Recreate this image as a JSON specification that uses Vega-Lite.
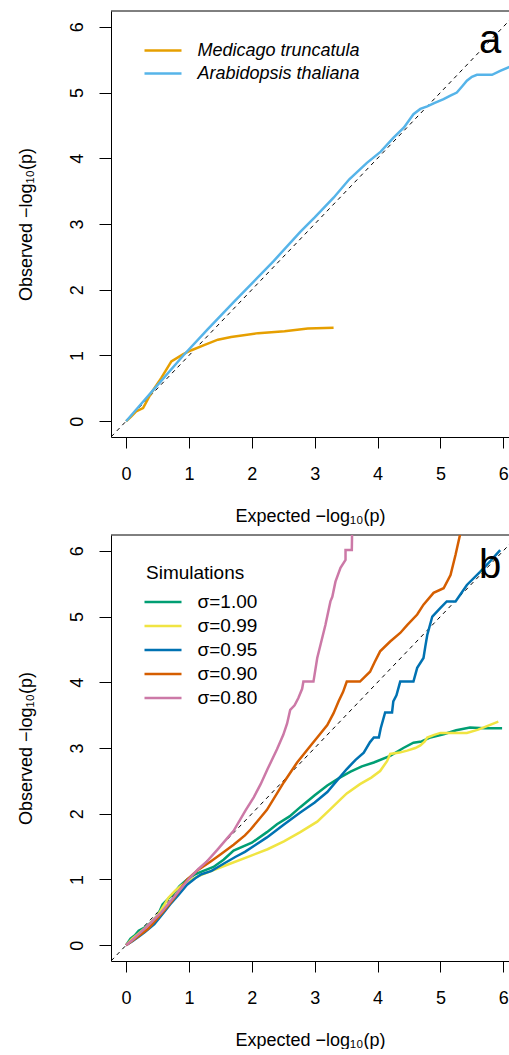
{
  "$schema": "https://vega.github.io/schema/vega-lite/v6.json",
  "background": "white",
  "padding": {"left": 17, "top": 10, "right": 0, "bottom": 0},
  "spacing": 9,
  "config": {
    "font": "Liberation Sans",
    "view": {"stroke": null},
    "axis": {
      "grid": false,
      "domainColor": "black",
      "tickColor": "black",
      "labelColor": "black",
      "titleColor": "black",
      "labelFontSize": 18,
      "titleFontSize": 18,
      "titleFontWeight": "normal",
      "labelFlush": false,
      "labelOverlap": false,
      "format": "d"
    },
    "axisX": {"tickSize": 11, "labelPadding": 17, "titlePadding": 24},
    "axisY": {"tickSize": 12, "labelPadding": 13, "titlePadding": 33, "labelAngle": 270},
    "legend": {
      "orient": "none",
      "symbolType": "M-1.3,0H2.4",
      "symbolSize": 400,
      "symbolStrokeWidth": 2.5,
      "labelFontSize": 18,
      "labelLimit": 0,
      "labelColor": "black",
      "titleColor": "black",
      "titleFontWeight": "normal",
      "titleFontSize": 19,
      "labelOffset": 28.5,
      "padding": 0,
      "rowPadding": 2
    }
  },
  "datasets": {
    "diag": [{"x": -0.5, "y": -0.5, "x2": 7, "y2": 7}],
    "frame": [{"y": 6.24}],
    "lab": [{"panel": "a", "x": 5.79, "y": 5.6, "t": "a"}, {"panel": "b", "x": 5.79, "y": 5.59, "t": "b"}],
    "a": [
      {"s": "Medicago truncatula", "i": 0, "x": 0, "y": 0},
      {"s": "Medicago truncatula", "i": 1, "x": 0.08, "y": 0.07},
      {"s": "Medicago truncatula", "i": 2, "x": 0.16, "y": 0.15},
      {"s": "Medicago truncatula", "i": 3, "x": 0.27, "y": 0.2},
      {"s": "Medicago truncatula", "i": 4, "x": 0.4, "y": 0.43},
      {"s": "Medicago truncatula", "i": 5, "x": 0.56, "y": 0.66},
      {"s": "Medicago truncatula", "i": 6, "x": 0.72, "y": 0.91},
      {"s": "Medicago truncatula", "i": 7, "x": 0.91, "y": 1.02},
      {"s": "Medicago truncatula", "i": 8, "x": 1.04, "y": 1.08},
      {"s": "Medicago truncatula", "i": 9, "x": 1.25, "y": 1.16},
      {"s": "Medicago truncatula", "i": 10, "x": 1.46, "y": 1.24},
      {"s": "Medicago truncatula", "i": 11, "x": 1.67, "y": 1.28},
      {"s": "Medicago truncatula", "i": 12, "x": 2.1, "y": 1.34},
      {"s": "Medicago truncatula", "i": 13, "x": 2.52, "y": 1.37},
      {"s": "Medicago truncatula", "i": 14, "x": 2.89, "y": 1.41},
      {"s": "Medicago truncatula", "i": 15, "x": 3.3, "y": 1.42},
      {"s": "Arabidopsis thaliana", "i": 0, "x": 0, "y": 0},
      {"s": "Arabidopsis thaliana", "i": 1, "x": 0.2, "y": 0.22},
      {"s": "Arabidopsis thaliana", "i": 2, "x": 0.5, "y": 0.55},
      {"s": "Arabidopsis thaliana", "i": 3, "x": 0.91, "y": 1.0},
      {"s": "Arabidopsis thaliana", "i": 4, "x": 1.3, "y": 1.4},
      {"s": "Arabidopsis thaliana", "i": 5, "x": 1.73, "y": 1.83},
      {"s": "Arabidopsis thaliana", "i": 6, "x": 2.35, "y": 2.44},
      {"s": "Arabidopsis thaliana", "i": 7, "x": 2.77, "y": 2.88},
      {"s": "Arabidopsis thaliana", "i": 8, "x": 3.0, "y": 3.1},
      {"s": "Arabidopsis thaliana", "i": 9, "x": 3.3, "y": 3.4},
      {"s": "Arabidopsis thaliana", "i": 10, "x": 3.55, "y": 3.68},
      {"s": "Arabidopsis thaliana", "i": 11, "x": 3.83, "y": 3.93},
      {"s": "Arabidopsis thaliana", "i": 12, "x": 4.05, "y": 4.1},
      {"s": "Arabidopsis thaliana", "i": 13, "x": 4.25, "y": 4.31},
      {"s": "Arabidopsis thaliana", "i": 14, "x": 4.42, "y": 4.47},
      {"s": "Arabidopsis thaliana", "i": 15, "x": 4.57, "y": 4.67},
      {"s": "Arabidopsis thaliana", "i": 16, "x": 4.68, "y": 4.75},
      {"s": "Arabidopsis thaliana", "i": 17, "x": 4.79, "y": 4.79},
      {"s": "Arabidopsis thaliana", "i": 18, "x": 4.9, "y": 4.84},
      {"s": "Arabidopsis thaliana", "i": 19, "x": 5.05, "y": 4.9},
      {"s": "Arabidopsis thaliana", "i": 20, "x": 5.15, "y": 4.95},
      {"s": "Arabidopsis thaliana", "i": 21, "x": 5.26, "y": 5.0},
      {"s": "Arabidopsis thaliana", "i": 22, "x": 5.35, "y": 5.1},
      {"s": "Arabidopsis thaliana", "i": 23, "x": 5.42, "y": 5.18},
      {"s": "Arabidopsis thaliana", "i": 24, "x": 5.5, "y": 5.24},
      {"s": "Arabidopsis thaliana", "i": 25, "x": 5.58, "y": 5.27},
      {"s": "Arabidopsis thaliana", "i": 26, "x": 5.7, "y": 5.27},
      {"s": "Arabidopsis thaliana", "i": 27, "x": 5.82, "y": 5.27},
      {"s": "Arabidopsis thaliana", "i": 28, "x": 5.95, "y": 5.33},
      {"s": "Arabidopsis thaliana", "i": 29, "x": 6.12, "y": 5.4}
    ],
    "b": [
      {"s": "σ=1.00", "i": 0, "x": 0, "y": 0},
      {"s": "σ=1.00", "i": 1, "x": 0.07, "y": 0.1},
      {"s": "σ=1.00", "i": 2, "x": 0.14, "y": 0.15},
      {"s": "σ=1.00", "i": 3, "x": 0.2, "y": 0.22},
      {"s": "σ=1.00", "i": 4, "x": 0.3, "y": 0.27},
      {"s": "σ=1.00", "i": 5, "x": 0.4, "y": 0.35},
      {"s": "σ=1.00", "i": 6, "x": 0.5, "y": 0.45},
      {"s": "σ=1.00", "i": 7, "x": 0.58, "y": 0.62},
      {"s": "σ=1.00", "i": 8, "x": 0.64, "y": 0.68},
      {"s": "σ=1.00", "i": 9, "x": 0.75, "y": 0.78},
      {"s": "σ=1.00", "i": 10, "x": 0.85, "y": 0.9},
      {"s": "σ=1.00", "i": 11, "x": 0.97, "y": 1.0},
      {"s": "σ=1.00", "i": 12, "x": 1.1, "y": 1.08},
      {"s": "σ=1.00", "i": 13, "x": 1.2, "y": 1.12},
      {"s": "σ=1.00", "i": 14, "x": 1.39, "y": 1.19},
      {"s": "σ=1.00", "i": 15, "x": 1.55, "y": 1.3},
      {"s": "σ=1.00", "i": 16, "x": 1.71, "y": 1.44},
      {"s": "σ=1.00", "i": 17, "x": 2.0, "y": 1.56},
      {"s": "σ=1.00", "i": 18, "x": 2.24, "y": 1.72},
      {"s": "σ=1.00", "i": 19, "x": 2.4, "y": 1.84},
      {"s": "σ=1.00", "i": 20, "x": 2.6, "y": 1.96},
      {"s": "σ=1.00", "i": 21, "x": 2.77, "y": 2.1},
      {"s": "σ=1.00", "i": 22, "x": 3.0, "y": 2.28},
      {"s": "σ=1.00", "i": 23, "x": 3.2, "y": 2.43},
      {"s": "σ=1.00", "i": 24, "x": 3.4, "y": 2.55},
      {"s": "σ=1.00", "i": 25, "x": 3.57, "y": 2.64},
      {"s": "σ=1.00", "i": 26, "x": 3.75, "y": 2.72},
      {"s": "σ=1.00", "i": 27, "x": 3.94, "y": 2.78},
      {"s": "σ=1.00", "i": 28, "x": 4.2, "y": 2.88},
      {"s": "σ=1.00", "i": 29, "x": 4.41, "y": 3.0},
      {"s": "σ=1.00", "i": 30, "x": 4.57, "y": 3.08},
      {"s": "σ=1.00", "i": 31, "x": 4.7, "y": 3.1},
      {"s": "σ=1.00", "i": 32, "x": 4.84, "y": 3.16},
      {"s": "σ=1.00", "i": 33, "x": 5.05, "y": 3.21},
      {"s": "σ=1.00", "i": 34, "x": 5.25, "y": 3.27},
      {"s": "σ=1.00", "i": 35, "x": 5.47, "y": 3.31},
      {"s": "σ=1.00", "i": 36, "x": 5.7, "y": 3.3},
      {"s": "σ=1.00", "i": 37, "x": 5.98, "y": 3.3},
      {"s": "σ=0.99", "i": 0, "x": 0, "y": 0},
      {"s": "σ=0.99", "i": 1, "x": 0.1, "y": 0.1},
      {"s": "σ=0.99", "i": 2, "x": 0.2, "y": 0.18},
      {"s": "σ=0.99", "i": 3, "x": 0.35, "y": 0.3},
      {"s": "σ=0.99", "i": 4, "x": 0.5, "y": 0.45},
      {"s": "σ=0.99", "i": 5, "x": 0.6, "y": 0.6},
      {"s": "σ=0.99", "i": 6, "x": 0.67, "y": 0.72},
      {"s": "σ=0.99", "i": 7, "x": 0.78, "y": 0.83},
      {"s": "σ=0.99", "i": 8, "x": 0.88, "y": 0.91},
      {"s": "σ=0.99", "i": 9, "x": 1.0, "y": 0.98},
      {"s": "σ=0.99", "i": 10, "x": 1.15, "y": 1.05},
      {"s": "σ=0.99", "i": 11, "x": 1.36, "y": 1.13},
      {"s": "σ=0.99", "i": 12, "x": 1.6, "y": 1.22},
      {"s": "σ=0.99", "i": 13, "x": 1.98, "y": 1.36},
      {"s": "σ=0.99", "i": 14, "x": 2.25, "y": 1.46},
      {"s": "σ=0.99", "i": 15, "x": 2.51, "y": 1.58},
      {"s": "σ=0.99", "i": 16, "x": 2.77, "y": 1.72},
      {"s": "σ=0.99", "i": 17, "x": 3.04, "y": 1.88},
      {"s": "σ=0.99", "i": 18, "x": 3.25, "y": 2.07},
      {"s": "σ=0.99", "i": 19, "x": 3.41, "y": 2.22},
      {"s": "σ=0.99", "i": 20, "x": 3.51, "y": 2.31},
      {"s": "σ=0.99", "i": 21, "x": 3.72, "y": 2.45},
      {"s": "σ=0.99", "i": 22, "x": 3.9, "y": 2.55},
      {"s": "σ=0.99", "i": 23, "x": 4.04, "y": 2.65},
      {"s": "σ=0.99", "i": 24, "x": 4.15, "y": 2.8},
      {"s": "σ=0.99", "i": 25, "x": 4.2, "y": 2.91},
      {"s": "σ=0.99", "i": 26, "x": 4.35, "y": 2.93},
      {"s": "σ=0.99", "i": 27, "x": 4.47, "y": 2.96},
      {"s": "σ=0.99", "i": 28, "x": 4.6, "y": 3.0},
      {"s": "σ=0.99", "i": 29, "x": 4.68, "y": 3.04},
      {"s": "σ=0.99", "i": 30, "x": 4.75, "y": 3.1},
      {"s": "σ=0.99", "i": 31, "x": 4.79, "y": 3.16},
      {"s": "σ=0.99", "i": 32, "x": 4.9, "y": 3.2},
      {"s": "σ=0.99", "i": 33, "x": 5.0, "y": 3.23},
      {"s": "σ=0.99", "i": 34, "x": 5.42, "y": 3.23},
      {"s": "σ=0.99", "i": 35, "x": 5.6, "y": 3.28},
      {"s": "σ=0.99", "i": 36, "x": 5.92, "y": 3.4},
      {"s": "σ=0.95", "i": 0, "x": 0, "y": 0},
      {"s": "σ=0.95", "i": 1, "x": 0.1, "y": 0.06},
      {"s": "σ=0.95", "i": 2, "x": 0.2, "y": 0.13},
      {"s": "σ=0.95", "i": 3, "x": 0.3, "y": 0.2},
      {"s": "σ=0.95", "i": 4, "x": 0.45, "y": 0.32},
      {"s": "σ=0.95", "i": 5, "x": 0.6, "y": 0.5},
      {"s": "σ=0.95", "i": 6, "x": 0.7, "y": 0.62},
      {"s": "σ=0.95", "i": 7, "x": 0.83, "y": 0.76},
      {"s": "σ=0.95", "i": 8, "x": 0.97, "y": 0.92},
      {"s": "σ=0.95", "i": 9, "x": 1.1, "y": 1.02},
      {"s": "σ=0.95", "i": 10, "x": 1.2, "y": 1.08},
      {"s": "σ=0.95", "i": 11, "x": 1.36, "y": 1.13},
      {"s": "σ=0.95", "i": 12, "x": 1.55, "y": 1.24},
      {"s": "σ=0.95", "i": 13, "x": 1.75, "y": 1.35},
      {"s": "σ=0.95", "i": 14, "x": 1.89, "y": 1.42},
      {"s": "σ=0.95", "i": 15, "x": 2.05, "y": 1.52},
      {"s": "σ=0.95", "i": 16, "x": 2.24, "y": 1.64},
      {"s": "σ=0.95", "i": 17, "x": 2.5, "y": 1.83},
      {"s": "σ=0.95", "i": 18, "x": 2.77, "y": 2.02},
      {"s": "σ=0.95", "i": 19, "x": 3.0, "y": 2.17},
      {"s": "σ=0.95", "i": 20, "x": 3.2, "y": 2.33},
      {"s": "σ=0.95", "i": 21, "x": 3.35, "y": 2.5},
      {"s": "σ=0.95", "i": 22, "x": 3.51, "y": 2.68},
      {"s": "σ=0.95", "i": 23, "x": 3.65, "y": 2.82},
      {"s": "σ=0.95", "i": 24, "x": 3.78, "y": 2.93},
      {"s": "σ=0.95", "i": 25, "x": 3.88, "y": 3.09},
      {"s": "σ=0.95", "i": 26, "x": 3.94, "y": 3.16},
      {"s": "σ=0.95", "i": 27, "x": 4.02, "y": 3.16},
      {"s": "σ=0.95", "i": 28, "x": 4.05, "y": 3.3},
      {"s": "σ=0.95", "i": 29, "x": 4.12, "y": 3.54},
      {"s": "σ=0.95", "i": 30, "x": 4.23, "y": 3.54},
      {"s": "σ=0.95", "i": 31, "x": 4.25, "y": 3.71},
      {"s": "σ=0.95", "i": 32, "x": 4.3, "y": 3.8},
      {"s": "σ=0.95", "i": 33, "x": 4.36, "y": 4.01},
      {"s": "σ=0.95", "i": 34, "x": 4.57, "y": 4.01},
      {"s": "σ=0.95", "i": 35, "x": 4.63, "y": 4.22},
      {"s": "σ=0.95", "i": 36, "x": 4.73, "y": 4.37},
      {"s": "σ=0.95", "i": 37, "x": 4.76, "y": 4.55},
      {"s": "σ=0.95", "i": 38, "x": 4.79, "y": 4.72},
      {"s": "σ=0.95", "i": 39, "x": 4.87, "y": 5.0},
      {"s": "σ=0.95", "i": 40, "x": 5.0, "y": 5.13},
      {"s": "σ=0.95", "i": 41, "x": 5.1, "y": 5.23},
      {"s": "σ=0.95", "i": 42, "x": 5.24, "y": 5.23},
      {"s": "σ=0.95", "i": 43, "x": 5.42, "y": 5.48},
      {"s": "σ=0.95", "i": 44, "x": 5.63, "y": 5.68},
      {"s": "σ=0.95", "i": 45, "x": 5.8, "y": 5.85},
      {"s": "σ=0.95", "i": 46, "x": 5.95, "y": 6.01},
      {"s": "σ=0.90", "i": 0, "x": 0, "y": 0},
      {"s": "σ=0.90", "i": 1, "x": 0.1, "y": 0.07},
      {"s": "σ=0.90", "i": 2, "x": 0.2, "y": 0.14},
      {"s": "σ=0.90", "i": 3, "x": 0.35, "y": 0.25},
      {"s": "σ=0.90", "i": 4, "x": 0.49, "y": 0.4},
      {"s": "σ=0.90", "i": 5, "x": 0.6, "y": 0.52},
      {"s": "σ=0.90", "i": 6, "x": 0.75, "y": 0.7},
      {"s": "σ=0.90", "i": 7, "x": 0.97, "y": 1.0},
      {"s": "σ=0.90", "i": 8, "x": 1.15, "y": 1.15},
      {"s": "σ=0.90", "i": 9, "x": 1.34, "y": 1.27},
      {"s": "σ=0.90", "i": 10, "x": 1.5, "y": 1.38},
      {"s": "σ=0.90", "i": 11, "x": 1.71, "y": 1.53},
      {"s": "σ=0.90", "i": 12, "x": 1.89, "y": 1.67},
      {"s": "σ=0.90", "i": 13, "x": 1.98, "y": 1.76},
      {"s": "σ=0.90", "i": 14, "x": 2.24, "y": 2.06},
      {"s": "σ=0.90", "i": 15, "x": 2.51, "y": 2.48},
      {"s": "σ=0.90", "i": 16, "x": 2.72, "y": 2.78},
      {"s": "σ=0.90", "i": 17, "x": 2.93, "y": 3.03},
      {"s": "σ=0.90", "i": 18, "x": 3.04, "y": 3.16},
      {"s": "σ=0.90", "i": 19, "x": 3.2, "y": 3.35},
      {"s": "σ=0.90", "i": 20, "x": 3.3, "y": 3.53},
      {"s": "σ=0.90", "i": 21, "x": 3.38, "y": 3.71},
      {"s": "σ=0.90", "i": 22, "x": 3.45, "y": 3.85},
      {"s": "σ=0.90", "i": 23, "x": 3.51, "y": 4.01},
      {"s": "σ=0.90", "i": 24, "x": 3.72, "y": 4.01},
      {"s": "σ=0.90", "i": 25, "x": 3.88, "y": 4.16},
      {"s": "σ=0.90", "i": 26, "x": 3.95, "y": 4.3},
      {"s": "σ=0.90", "i": 27, "x": 4.04, "y": 4.47},
      {"s": "σ=0.90", "i": 28, "x": 4.2, "y": 4.62},
      {"s": "σ=0.90", "i": 29, "x": 4.36, "y": 4.75},
      {"s": "σ=0.90", "i": 30, "x": 4.47, "y": 4.87},
      {"s": "σ=0.90", "i": 31, "x": 4.63, "y": 5.03},
      {"s": "σ=0.90", "i": 32, "x": 4.73, "y": 5.18},
      {"s": "σ=0.90", "i": 33, "x": 4.89, "y": 5.36},
      {"s": "σ=0.90", "i": 34, "x": 5.05, "y": 5.43},
      {"s": "σ=0.90", "i": 35, "x": 5.16, "y": 5.63},
      {"s": "σ=0.90", "i": 36, "x": 5.24, "y": 5.94},
      {"s": "σ=0.90", "i": 37, "x": 5.31, "y": 6.24},
      {"s": "σ=0.90", "i": 38, "x": 5.38, "y": 6.6},
      {"s": "σ=0.80", "i": 0, "x": 0, "y": 0},
      {"s": "σ=0.80", "i": 1, "x": 0.1, "y": 0.08},
      {"s": "σ=0.80", "i": 2, "x": 0.2, "y": 0.17},
      {"s": "σ=0.80", "i": 3, "x": 0.35, "y": 0.3},
      {"s": "σ=0.80", "i": 4, "x": 0.56, "y": 0.5},
      {"s": "σ=0.80", "i": 5, "x": 0.75, "y": 0.72},
      {"s": "σ=0.80", "i": 6, "x": 0.99, "y": 1.0},
      {"s": "σ=0.80", "i": 7, "x": 1.15, "y": 1.16},
      {"s": "σ=0.80", "i": 8, "x": 1.29, "y": 1.28},
      {"s": "σ=0.80", "i": 9, "x": 1.45, "y": 1.45},
      {"s": "σ=0.80", "i": 10, "x": 1.62, "y": 1.64},
      {"s": "σ=0.80", "i": 11, "x": 1.71, "y": 1.74},
      {"s": "σ=0.80", "i": 12, "x": 1.9, "y": 2.05},
      {"s": "σ=0.80", "i": 13, "x": 2.03, "y": 2.25},
      {"s": "σ=0.80", "i": 14, "x": 2.14, "y": 2.45},
      {"s": "σ=0.80", "i": 15, "x": 2.25, "y": 2.68},
      {"s": "σ=0.80", "i": 16, "x": 2.4, "y": 2.98},
      {"s": "σ=0.80", "i": 17, "x": 2.5, "y": 3.2},
      {"s": "σ=0.80", "i": 18, "x": 2.56, "y": 3.37},
      {"s": "σ=0.80", "i": 19, "x": 2.61, "y": 3.58},
      {"s": "σ=0.80", "i": 20, "x": 2.68, "y": 3.65},
      {"s": "σ=0.80", "i": 21, "x": 2.74, "y": 3.76},
      {"s": "σ=0.80", "i": 22, "x": 2.8, "y": 3.9},
      {"s": "σ=0.80", "i": 23, "x": 2.82, "y": 4.01},
      {"s": "σ=0.80", "i": 24, "x": 2.98, "y": 4.01},
      {"s": "σ=0.80", "i": 25, "x": 3.04, "y": 4.37},
      {"s": "σ=0.80", "i": 26, "x": 3.1, "y": 4.6},
      {"s": "σ=0.80", "i": 27, "x": 3.17, "y": 4.87},
      {"s": "σ=0.80", "i": 28, "x": 3.25, "y": 5.23},
      {"s": "σ=0.80", "i": 29, "x": 3.28, "y": 5.3},
      {"s": "σ=0.80", "i": 30, "x": 3.33, "y": 5.53},
      {"s": "σ=0.80", "i": 31, "x": 3.41, "y": 5.74},
      {"s": "σ=0.80", "i": 32, "x": 3.49, "y": 5.86},
      {"s": "σ=0.80", "i": 33, "x": 3.49, "y": 6.01},
      {"s": "σ=0.80", "i": 34, "x": 3.59, "y": 6.01},
      {"s": "σ=0.80", "i": 35, "x": 3.6, "y": 6.6}
    ]
  },
  "vconcat": [
    {
      "width": 398,
      "height": 426,
      "layer": [
        {
          "data": {"name": "diag"},
          "mark": {"type": "rule", "color": "black", "strokeWidth": 1, "strokeDash": [4, 4], "clip": true},
          "encoding": {
            "x": {"field": "x", "type": "quantitative", "scale": {"domain": [-0.24, 6.09], "nice": false, "zero": false}, "axis": {"title": "Expected  −log₁₀(p)", "values": [0, 1, 2, 3, 4, 5, 6]}},
            "y": {"field": "y", "type": "quantitative", "scale": {"domain": [-0.24, 6.24], "nice": false, "zero": false}, "axis": {"title": "Observed  −log₁₀(p)", "values": [0, 1, 2, 3, 4, 5, 6]}},
            "x2": {"field": "x2"},
            "y2": {"field": "y2"}
          }
        },
        {
          "data": {"name": "frame"},
          "mark": {"type": "rule", "color": "black", "strokeWidth": 1},
          "encoding": {"y": {"field": "y", "type": "quantitative"}}
        },
        {
          "data": {"name": "a"},
          "mark": {"type": "line", "strokeWidth": 2.5, "clip": true},
          "encoding": {
            "x": {"field": "x", "type": "quantitative"},
            "y": {"field": "y", "type": "quantitative"},
            "order": {"field": "i", "type": "quantitative"},
            "color": {
              "field": "s", "type": "nominal",
              "scale": {"domain": ["Medicago truncatula", "Arabidopsis thaliana"], "range": ["#E69F00", "#56B4E9"]},
              "legend": {"title": null, "legendX": 35, "legendY": 28, "labelFontStyle": "italic", "labelFontSize": 18}
            }
          }
        },
        {
          "data": {"name": "lab"},
          "transform": [{"filter": "datum.panel == 'a'"}],
          "mark": {"type": "text", "fontSize": 40, "align": "center", "baseline": "alphabetic", "color": "black"},
          "encoding": {
            "x": {"field": "x", "type": "quantitative"},
            "y": {"field": "y", "type": "quantitative"},
            "text": {"field": "t"}
          }
        }
      ]
    },
    {
      "width": 398,
      "height": 426,
      "layer": [
        {
          "data": {"name": "diag"},
          "mark": {"type": "rule", "color": "black", "strokeWidth": 1, "strokeDash": [4, 4], "clip": true},
          "encoding": {
            "x": {"field": "x", "type": "quantitative", "scale": {"domain": [-0.24, 6.09], "nice": false, "zero": false}, "axis": {"title": "Expected  −log₁₀(p)", "values": [0, 1, 2, 3, 4, 5, 6]}},
            "y": {"field": "y", "type": "quantitative", "scale": {"domain": [-0.24, 6.24], "nice": false, "zero": false}, "axis": {"title": "Observed  −log₁₀(p)", "values": [0, 1, 2, 3, 4, 5, 6]}},
            "x2": {"field": "x2"},
            "y2": {"field": "y2"}
          }
        },
        {
          "data": {"name": "frame"},
          "mark": {"type": "rule", "color": "black", "strokeWidth": 1},
          "encoding": {"y": {"field": "y", "type": "quantitative"}}
        },
        {
          "data": {"name": "b"},
          "mark": {"type": "line", "strokeWidth": 2.5, "clip": true},
          "encoding": {
            "x": {"field": "x", "type": "quantitative"},
            "y": {"field": "y", "type": "quantitative"},
            "order": {"field": "i", "type": "quantitative"},
            "color": {
              "field": "s", "type": "nominal",
              "scale": {"domain": ["σ=1.00", "σ=0.99", "σ=0.95", "σ=0.90", "σ=0.80"], "range": ["#009E73", "#F0E442", "#0072B2", "#D55E00", "#CC79A7"]},
              "legend": {"title": "Simulations", "legendX": 35, "legendY": 28.5, "labelFontSize": 19, "titlePadding": 8}
            }
          }
        },
        {
          "data": {"name": "lab"},
          "transform": [{"filter": "datum.panel == 'b'"}],
          "mark": {"type": "text", "fontSize": 40, "align": "center", "baseline": "alphabetic", "color": "black"},
          "encoding": {
            "x": {"field": "x", "type": "quantitative"},
            "y": {"field": "y", "type": "quantitative"},
            "text": {"field": "t"}
          }
        }
      ],
      "resolve": {"scale": {"color": "independent"}}
    }
  ],
  "resolve": {"scale": {"color": "independent"}}
}
